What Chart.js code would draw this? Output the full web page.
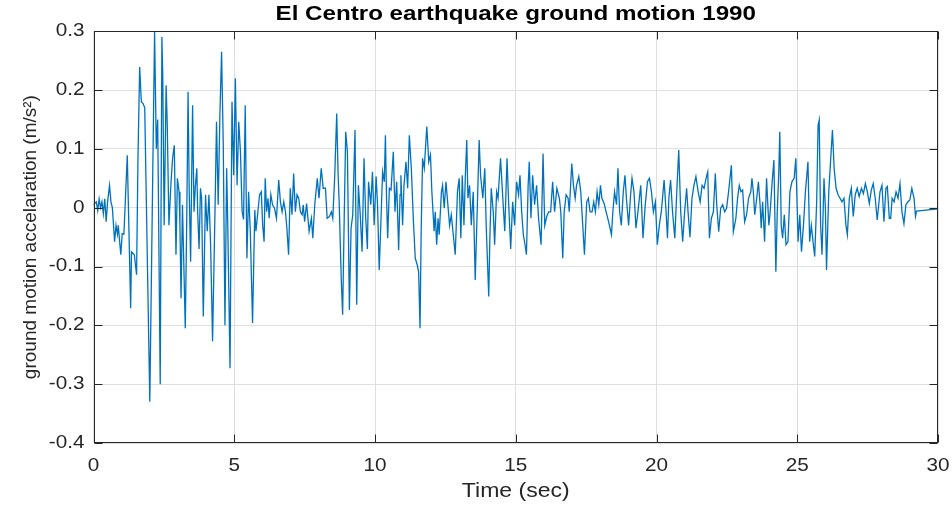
<!DOCTYPE html>
<html>
<head>
<meta charset="utf-8">
<title>El Centro earthquake ground motion 1990</title>
<script src="https://cdn.jsdelivr.net/npm/chart.js@4.4.1/dist/chart.umd.min.js"></script>
<style>
  html, body { margin: 0; padding: 0; background: #fff; }
  #wrap { width: 952px; height: 506px; }
</style>
</head>
<body>
<div id="wrap"><canvas id="quake" width="952" height="506"></canvas></div>
<script>
// --- data (time in s, acceleration in m/s^2) ---
const timeSec = [
  0, 0.1, 0.15, 0.2, 0.25, 0.3, 0.35, 0.4, 0.45, 0.5,
  0.57, 0.62, 0.67, 0.75, 0.8, 0.85, 0.88, 0.97, 1.02, 1.08,
  1.2, 1.32, 1.35, 1.45, 1.53, 1.58, 1.64, 1.7, 1.76, 1.82,
  2.0, 2.17, 2.23, 2.28, 2.37, 2.43, 2.46, 2.51, 2.58, 2.62,
  2.68, 2.75, 2.81, 2.87, 2.93, 2.98, 3.04, 3.07, 3.11, 3.16,
  3.19, 3.26, 3.31, 3.36, 3.4, 3.45, 3.52, 3.57, 3.62, 3.67,
  3.7, 3.75, 3.8, 3.84, 3.9, 3.98, 4.04, 4.1, 4.16, 4.23,
  4.32, 4.37, 4.43, 4.49, 4.55, 4.61, 4.67, 4.73, 4.77, 4.85,
  4.92, 4.98, 5.04, 5.1, 5.16, 5.22, 5.28, 5.33, 5.39, 5.45,
  5.51, 5.57, 5.65, 5.73, 5.77, 5.84, 5.9, 5.96, 6.01, 6.06,
  6.1, 6.15, 6.2, 6.24, 6.3, 6.36, 6.43, 6.5, 6.58, 6.64,
  6.7, 6.76, 6.82, 6.87, 6.93, 6.99, 7.05, 7.11, 7.17, 7.23,
  7.29, 7.35, 7.41, 7.45, 7.5, 7.57, 7.66, 7.74, 7.79, 7.86,
  7.95, 8.01, 8.09, 8.16, 8.24, 8.3, 8.38, 8.45, 8.5, 8.57,
  8.64, 8.69, 8.73, 8.8, 8.85, 8.91, 8.96, 9.02, 9.09, 9.15,
  9.21, 9.29, 9.35, 9.41, 9.47, 9.54, 9.61, 9.67, 9.73, 9.77,
  9.85, 9.91, 9.97, 10.04, 10.09, 10.15, 10.21, 10.27, 10.33, 10.37,
  10.41, 10.45, 10.51, 10.57, 10.65, 10.71, 10.77, 10.84, 10.89, 10.92,
  10.98, 11.03, 11.1, 11.16, 11.22, 11.29, 11.36, 11.43, 11.5, 11.55,
  11.6, 11.64, 11.69, 11.75, 11.84, 11.91, 11.97, 12.02, 12.1, 12.14,
  12.19, 12.24, 12.28, 12.36, 12.4, 12.46, 12.52, 12.65, 12.71, 12.77,
  12.85, 12.93, 12.99, 13.05, 13.1, 13.16, 13.21, 13.26, 13.3, 13.36,
  13.42, 13.49, 13.56, 13.64, 13.7, 13.75, 13.83, 13.9, 13.95, 14.04,
  14.08, 14.13, 14.2, 14.25, 14.32, 14.37, 14.46, 14.54, 14.61, 14.69,
  14.75, 14.82, 14.89, 14.96, 15.03, 15.1, 15.15, 15.21, 15.27, 15.33,
  15.38, 15.44, 15.48, 15.54, 15.6, 15.67, 15.74, 15.81, 15.9, 15.97,
  16.03, 16.1, 16.17, 16.24, 16.31, 16.38, 16.46, 16.55, 16.6, 16.67,
  16.72, 16.79, 16.86, 16.9, 16.99, 17.05, 17.11, 17.16, 17.24, 17.31,
  17.38, 17.44, 17.52, 17.58, 17.64, 17.71, 17.77, 17.83, 17.89, 17.95,
  18.01, 18.06, 18.14, 18.21, 18.3, 18.4, 18.45, 18.51, 18.58, 18.63,
  18.69, 18.75, 18.82, 18.88, 18.94, 19.01, 19.08, 19.13, 19.2, 19.27,
  19.34, 19.44, 19.52, 19.6, 19.68, 19.75, 19.82, 19.89, 19.96, 20.03,
  20.1, 20.17, 20.27, 20.34, 20.39, 20.44, 20.5, 20.57, 20.65, 20.72,
  20.79, 20.86, 20.93, 21.0, 21.07, 21.12, 21.19, 21.26, 21.33, 21.4,
  21.48, 21.55, 21.62, 21.69, 21.76, 21.82, 21.88, 21.95, 22.02, 22.09,
  22.14, 22.21, 22.28, 22.35, 22.42, 22.49, 22.56, 22.66, 22.73, 22.82,
  22.88, 22.94, 23.0, 23.06, 23.13, 23.2, 23.27, 23.35, 23.39, 23.44,
  23.49, 23.56, 23.62, 23.68, 23.72, 23.77, 23.84, 23.91, 23.99, 24.03,
  24.1, 24.17, 24.24, 24.29, 24.34, 24.38, 24.43, 24.48, 24.54, 24.6,
  24.67, 24.74, 24.81, 24.89, 24.95, 25.03, 25.09, 25.15, 25.22, 25.29,
  25.38, 25.44, 25.5, 25.56, 25.62, 25.69, 25.74, 25.78, 25.83, 25.88,
  25.95, 26.0, 26.04, 26.12, 26.19, 26.25, 26.31, 26.38, 26.45, 26.52,
  26.59, 26.66, 26.73, 26.78, 26.85, 26.92, 26.99, 27.06, 27.13, 27.2,
  27.28, 27.35, 27.42, 27.49, 27.56, 27.63, 27.7, 27.77, 27.84, 27.94,
  28.01, 28.08, 28.15, 28.2, 28.27, 28.32, 28.37, 28.44, 28.51, 28.58,
  28.65, 28.72, 28.79, 28.86, 28.93, 29.0, 29.07, 29.15, 29.2, 29.24,
  30
];

const accel = [
  0.005, 0.01, -0.005, 0.015, 0, 0.01, -0.01, 0.015, -0.024, 0.01,
  0.038, 0.01, 0, -0.058, -0.03, -0.045, -0.03, -0.08, -0.044, -0.045,
  0.089, -0.171, -0.075, -0.08, -0.114, 0.084, 0.239, 0.18, 0.177, 0.17,
  -0.33, 0.3, 0.1, 0.15, -0.3, 0.29, 0.225, -0.03, 0.208, 0.14,
  -0.03, 0.04, 0.084, 0.106, -0.08, 0.05, 0.027, -0.03, -0.154, 0.005,
  -0.058, -0.205, -0.03, 0.197, 0.027, -0.092, 0.174, -0.007, 0.038, 0.067,
  -0.007, -0.07, 0.033, 0.016, -0.185, 0.022, -0.04, 0.022, -0.063, -0.227,
  0.005, 0.146, 0.005, 0.157, 0.265, 0.106, -0.2, 0.067, -0.03, -0.273,
  0.18, 0.055, 0.22, 0.038, 0.146, 0.095, -0.007, -0.02, 0.174, -0.086,
  0.027, -0.04, -0.196, -0.004, -0.04, -0.007, 0.022, 0.027, -0.03, -0.058,
  0.05, -0.007, 0.016, -0.018, 0.022, 0.005, -0.001, -0.018, 0.047, 0.01,
  -0.007, 0.01, -0.007, -0.035, -0.08, 0.033, -0.012, 0.058, -0.007, 0.022,
  0.016, -0.007, -0.012, 0.005, -0.024, 0.007, -0.04, -0.018, -0.052, 0.005,
  0.05, 0.016, 0.067, 0.033, 0.033, -0.018, -0.015, -0.007, -0.018, 0.055,
  0.16, 0.055, 0.005, -0.12, -0.182, -0.007, 0.129, 0.095, -0.174, -0.035,
  -0.012, 0.132, -0.165, 0.038, -0.007, -0.075, 0.084, -0.018, -0.07, 0.044,
  0.005, 0.061, -0.03, 0.053, 0.005, -0.106, -0.024, 0.061, 0.044, 0.123,
  0.016, -0.052, 0.033, 0.03, 0.095, -0.007, 0.044, -0.072, 0.022, 0.055,
  -0.03, 0.038, 0.078, 0.033, 0.123, 0.067, -0.018, -0.086, -0.097, -0.109,
  -0.205, -0.04, 0.084, 0.067, 0.138, 0.078, 0.09, 0.027, -0.04, -0.007,
  -0.063, -0.018, -0.046, 0.027, 0.038, -0.001, 0.044, -0.03, -0.012, -0.041,
  -0.08, 0.027, 0.05, -0.052, 0.055, -0.03, 0.055, 0.115, 0.016, 0.038,
  -0.03, 0.027, -0.123, 0.01, 0.115, 0.055, 0.016, 0.067, -0.03, -0.151,
  -0.052, 0.033, -0.007, -0.063, 0.027, 0.016, 0.084, 0.016, -0.04, 0.084,
  0.005, -0.07, 0.01, -0.03, 0.044, 0.022, 0.055, -0.007, -0.046, -0.063,
  -0.08, 0.038, 0.078, -0.018, 0.055, 0.005, 0.038, -0.018, -0.063, 0.092,
  -0.03, -0.015, -0.007, -0.007, 0.044, -0.007, 0.033, 0.016, -0.007, -0.086,
  -0.007, 0.022, 0.016, -0.007, 0.075, 0.038, 0.016, 0.038, 0.053, 0.027,
  -0.03, -0.08, 0.01, 0.016, -0.007, -0.007, 0.01, -0.007, 0.027, 0.005,
  0.038, 0.016, 0.007, -0.007, -0.024, -0.046, -0.007, 0.027, 0.005, 0.067,
  -0.007, -0.03, 0.027, 0.055, 0.01, -0.03, 0.022, 0.05, 0.027, -0.035,
  -0.007, 0.038, -0.052, 0.005, 0.044, 0.05, 0.027, -0.007, 0.01, -0.063,
  -0.03, -0.007, 0.047, -0.007, -0.052, 0.016, 0.047, -0.007, -0.052, 0.027,
  0.098, -0.007, -0.058, -0.007, 0.033, -0.007, -0.05, 0.016, 0.038, 0.053,
  0.027, 0.01, 0.038, 0.033, 0.05, 0.061, -0.052, -0.018, -0.007, 0.058,
  0.005, -0.041, -0.001, 0.005, -0.007, -0.001, 0.027, 0.072, -0.041, -0.018,
  0.016, 0.038, 0.027, 0.03, -0.024, -0.012, 0.016, 0.027, 0.05, 0.027,
  -0.012, 0.016, 0.044, 0.005, -0.035, 0.01, -0.058, 0.05, -0.03, -0.012,
  0.038, 0.081, -0.109, -0.007, 0.055, 0.129, -0.03, -0.052, -0.012, -0.063,
  -0.058, 0.027, 0.044, 0.05, 0.084, -0.058, -0.012, -0.075, -0.03, 0.027,
  0.078, -0.058, -0.03, -0.058, -0.083, 0.01, 0.14, 0.149, -0.03, -0.08,
  0.05, -0.001, -0.106, 0.027, 0.084, 0.132, 0.067, 0.033, 0.022, 0.016,
  0.01, 0.016, -0.03, -0.046, 0.016, 0.033, -0.015, 0.022, 0.033, 0.019,
  0.033, 0.024, 0.041, 0.027, 0.007, 0.03, 0.041, 0.016, -0.021, 0.027,
  0.038, -0.024, 0.033, 0.036, -0.018, -0.018, 0.016, 0.01, 0.027, 0.016,
  0.041, -0.007, -0.027, 0.005, 0.01, 0.013, 0.033, 0.016, -0.015, -0.006,
  -0.002
];

const xTicks = [0, 5, 10, 15, 20, 25, 30];
const yTicks = [-0.4, -0.3, -0.2, -0.1, 0, 0.1, 0.2, 0.3];

const FONT = "'Liberation Sans', Arial, Helvetica, sans-serif";
const AX_COLOR = '#262626';
const TICK_LEN = 8;
const TEXT_STRETCH = 1.15; // the reference figure was widened, so its upright text is too

// widen upright text a little, leave the rotated y label alone
const wideText = {
    id: 'wideText',
    beforeInit(chart) {
        const ctx = chart.ctx;
        const fill = ctx.fillText.bind(ctx);
        ctx.fillText = (text, x, y) => {
            const m = ctx.getTransform();
            if (Math.abs(m.b) > 1e-6) { fill(text, x, y); return; }
            ctx.save();
            ctx.translate(x, y);
            ctx.scale(TEXT_STRETCH, 1);
            fill(text, 0, 0);
            ctx.restore();
        };
    }
};

// MATLAB style box with inward tick marks on all four sides
const matlabBox = {
    id: 'matlabBox',
    afterDraw(chart) {
        const { ctx, chartArea: a, scales } = chart;
        const l = Math.round(a.left) + 0.5, r = Math.round(a.right) - 0.5;
        const t = Math.round(a.top) + 0.5, b = Math.round(a.bottom) - 0.5;
        ctx.save();
        ctx.strokeStyle = AX_COLOR;
        ctx.lineWidth = 1;
        ctx.strokeRect(l, t, r - l, b - t);
        ctx.beginPath();
        xTicks.forEach(v => {
            const px = Math.round(scales.x.getPixelForValue(v)) + 0.5;
            ctx.moveTo(px, b); ctx.lineTo(px, b - TICK_LEN);
            ctx.moveTo(px, t); ctx.lineTo(px, t + TICK_LEN);
        });
        yTicks.forEach(v => {
            const py = Math.round(scales.y.getPixelForValue(v)) + 0.5;
            ctx.moveTo(l, py); ctx.lineTo(l + TICK_LEN, py);
            ctx.moveTo(r, py); ctx.lineTo(r - TICK_LEN, py);
        });
        ctx.stroke();
        ctx.restore();
    }
};

window.onload = () => {
    const ctx = document.getElementById('quake').getContext('2d');
    new Chart(ctx, {
        type: 'line',
        data: {
            datasets: [{
                label: 'ground motion',
                data: accel.map((v, i) => ({ x: timeSec[i], y: v })),
                borderColor: '#0072BD',
                borderWidth: 1.3,
                pointRadius: 0,
                tension: 0,
                fill: false
            }]
        },
        options: {
            responsive: false,
            animation: false,
            layout: { padding: { left: 19, right: 14, top: 0, bottom: 0 } },
            plugins: {
                legend: { display: false },
                tooltip: { enabled: false },
                title: {
                    display: true,
                    fullSize: false,
                    text: 'El Centro earthquake ground motion 1990',
                    color: '#000',
                    font: { family: FONT, size: 21, weight: 'bold', lineHeight: 1.2 },
                    padding: { top: 2, bottom: 4 }
                }
            },
            scales: {
                x: {
                    type: 'linear', min: 0, max: 30,
                    afterBuildTicks: s => { s.ticks = xTicks.map(v => ({ value: v })); },
                    afterFit: s => { s.height = 63; s.paddingLeft = 0; s.paddingRight = 0; },
                    grid: { color: '#dfdfdf', drawTicks: false },
                    border: { display: false },
                    ticks: {
                        color: AX_COLOR, padding: 12, maxRotation: 0,
                        font: { family: FONT, size: 18 },
                        callback: v => String(v)
                    },
                    title: {
                        display: true, text: 'Time (sec)', color: AX_COLOR,
                        font: { family: FONT, size: 20 }, padding: { top: 0, bottom: 3 }
                    }
                },
                y: {
                    type: 'linear', min: -0.4, max: 0.3,
                    afterBuildTicks: s => { s.ticks = yTicks.map(v => ({ value: v })); },
                    afterFit: s => { s.width = 74.5; },
                    grid: { color: '#dfdfdf', drawTicks: false },
                    border: { display: false },
                    ticks: {
                        color: AX_COLOR, padding: 9,
                        font: { family: FONT, size: 18 },
                        callback: v => (Math.abs(v) < 1e-9 ? '0' : v.toFixed(1))
                    },
                    title: {
                        display: true, text: 'ground motion accelaration (m/s²)', color: AX_COLOR,
                        font: { family: FONT, size: 19 }, padding: { top: 0, bottom: 0 }
                    }
                }
            }
        },
        plugins: [wideText, matlabBox]
    });
};
</script>
</body>
</html>
